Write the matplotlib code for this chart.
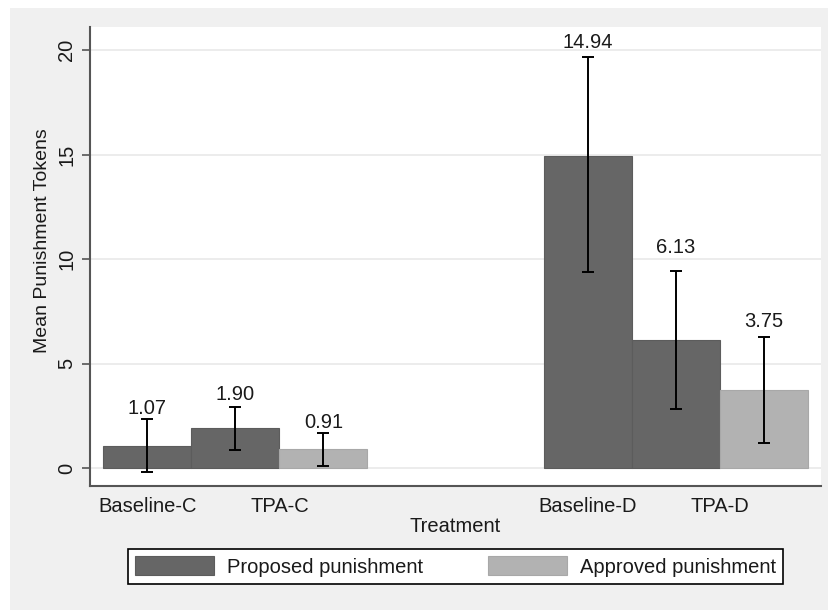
import matplotlib
matplotlib.use("Agg")
import matplotlib.pyplot as plt
from matplotlib.patches import Rectangle
import numpy as np

plt.rcParams['font.family'] = ['Liberation Sans', 'DejaVu Sans']

# ---- data ----
groups = ["Baseline-C", "TPA-C", "Baseline-D", "TPA-D"]
condition = ["C", "C", "D", "D"]
proposed = [1.07, 1.90, 14.94, 6.13]
proposed_lo = [-0.20, 0.84, 9.40, 2.83]
proposed_hi = [2.34, 2.94, 19.65, 9.43]
approved = [None, 0.91, None, 3.75]
approved_lo = [None, 0.12, None, 1.21]
approved_hi = [None, 1.66, None, 6.28]
series_names = ["Proposed punishment", "Approved punishment"]
yticks = [0, 5, 10, 15, 20]

# ---- style ----
c_prop = "#666666"
c_appr = "#b2b2b2"
bg = "#f0f0f0"
fs = 14.5
# label offsets above upper CI (points)
label_off_prop = [4, 5, 7, 13]
label_off_appr = [None, 4, None, 7]

fig = plt.figure(figsize=(8.29, 6.10), dpi=100)
fig.patch.set_facecolor("white")
fig.add_artist(Rectangle((10/829, 0), 1 - 10/829, 1 - 8/610,
                         transform=fig.transFigure, facecolor=bg,
                         edgecolor="none", zorder=0))

ax = fig.add_axes([90/829, 1 - 486/610, 731/829, 459/610])
ax.set_facecolor("white")

# compute slot positions: each condition has 3 slots, gap of 2 slots between
pos_prop, pos_appr, tick_pos = [], [], []
slot = 0
prev_cond = None
for i, g in enumerate(groups):
    if prev_cond is not None and condition[i] != prev_cond:
        slot += 2
    prev_cond = condition[i]
    pos_prop.append(slot)
    if approved[i] is not None:
        pos_appr.append(slot + 1)
        tick_pos.append(slot + 0.5)
        slot += 2
    else:
        pos_appr.append(None)
        tick_pos.append(slot)
        slot += 1

ax.set_ylim(-0.86, 21.1)
ax.set_xlim(-0.653, 7.653)
for yv in yticks:
    ax.axhline(yv, color="#eaeaea", lw=1.3, zorder=1)

ekw = dict(fmt="none", ecolor="black", elinewidth=1.4, capsize=4.5,
           capthick=1.4, zorder=4)
bp = ax.bar(pos_prop, proposed, width=1.0, color=c_prop, edgecolor="#5c5c5c",
            linewidth=0.8, zorder=2, label=series_names[0])
pp = np.array(proposed)
ax.errorbar(pos_prop, pp,
            yerr=[pp - np.array(proposed_lo), np.array(proposed_hi) - pp], **ekw)
for x, v, hi, off in zip(pos_prop, proposed, proposed_hi, label_off_prop):
    ax.annotate(f"{v:.2f}", (x, hi), xytext=(0, off), textcoords="offset points",
                ha="center", va="baseline", fontsize=fs, color="#1a1a1a", zorder=5)

ax_idx = [i for i in range(len(groups)) if approved[i] is not None]
xa = [pos_appr[i] for i in ax_idx]
va_ = np.array([approved[i] for i in ax_idx])
lo_a = np.array([approved_lo[i] for i in ax_idx])
hi_a = np.array([approved_hi[i] for i in ax_idx])
ba = ax.bar(xa, va_, width=1.0, color=c_appr, edgecolor="#a8a8a8",
            linewidth=0.8, zorder=2, label=series_names[1])
ax.errorbar(xa, va_, yerr=[va_ - lo_a, hi_a - va_], **ekw)
for j, i in enumerate(ax_idx):
    ax.annotate(f"{approved[i]:.2f}", (xa[j], hi_a[j]), xytext=(0, label_off_appr[i]),
                textcoords="offset points", ha="center", va="baseline",
                fontsize=fs, color="#1a1a1a", zorder=5)

for s in ["top", "right"]:
    ax.spines[s].set_visible(False)
for s in ["left", "bottom"]:
    ax.spines[s].set_color("#555555")
    ax.spines[s].set_linewidth(1.5)

ax.set_yticks(yticks)
ax.set_yticklabels([str(t) for t in yticks], rotation=90, va="center",
                   fontsize=fs, color="#1a1a1a")
ax.tick_params(axis="y", length=6, width=1.2, color="#555555", pad=4)
ax.set_xticks(tick_pos)
ax.set_xticklabels(groups, fontsize=fs, color="#1a1a1a")
ax.tick_params(axis="x", length=0, pad=8)
ax.set_xlabel("Treatment", fontsize=fs, color="#1a1a1a", labelpad=1)

fig.text(43/829, 1 - 241/610, "Mean Punishment Tokens", rotation=90,
         ha="center", va="center", fontsize=14, color="#1a1a1a")

leg = fig.legend(handles=[bp, ba], labels=series_names, loc="center",
                 bbox_to_anchor=(128/829, 1 - 585/610, 655/829, 37/610),
                 mode="expand", ncol=2,
                 fontsize=fs, frameon=True, fancybox=False, edgecolor="black",
                 facecolor="white", framealpha=1, handlelength=3.9,
                 handleheight=1.05, handletextpad=0.65, columnspacing=2.0,
                 borderpad=0.35, borderaxespad=0)
leg.get_frame().set_linewidth(1.2)
for t in leg.get_texts():
    t.set_color("#1a1a1a")

fig.savefig("out.png", dpi=100, facecolor=fig.get_facecolor())
